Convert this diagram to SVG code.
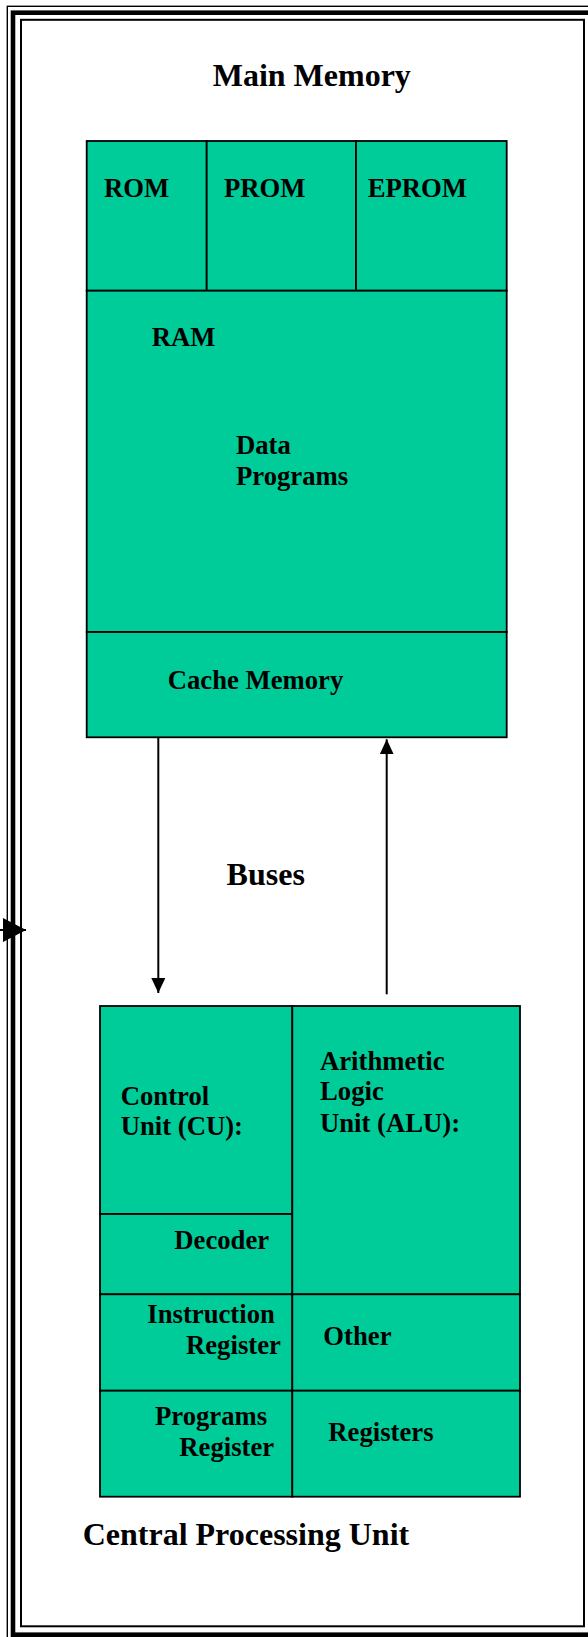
<svg xmlns="http://www.w3.org/2000/svg" width="588" height="1637" viewBox="0 0 588 1637">
  <style>
    .cell { fill: #00CC99; stroke: #000; stroke-width: 1.8; }
    .lbl { font-family: "Liberation Serif", "Times New Roman", serif; font-weight: bold; font-size: 26.7px; fill: #000; }
    .big { font-size: 32px; }
    .frame { fill: none; stroke: #000; }
    .wire { stroke: #000; stroke-width: 2; fill: none; }
  </style>
  <defs>
    <marker id="head" markerUnits="userSpaceOnUse" markerWidth="15" markerHeight="14" refX="15" refY="7" orient="auto">
      <path d="M0,0 L15,7 L0,14 z" fill="#000"/>
    </marker>
    <marker id="head-big" markerUnits="userSpaceOnUse" markerWidth="23" markerHeight="24" refX="23" refY="12" orient="auto">
      <path d="M0,0 L23,12 L0,24 z" fill="#000"/>
    </marker>
  </defs>

  <rect width="588" height="1637" fill="#fff"/>

  <!-- triple-line page frame -->
  <g id="page-frame">
    <rect class="frame" x="7.3" y="6.3" width="591" height="1634" stroke-width="1.4"/>
    <rect class="frame" x="13" y="12.7" width="579" height="1622" stroke-width="4.6"/>
    <rect class="frame" x="21" y="19.8" width="563" height="1606.5" stroke-width="2"/>
  </g>

  <text id="title-main-memory" class="lbl big" x="212.7" y="86">Main Memory</text>

  <!-- main memory block -->
  <g id="main-memory">
    <g id="rom">
      <rect class="cell" x="86.7" y="141" width="120" height="149.7"/>
      <text class="lbl" x="104" y="197.3">ROM</text>
    </g>
    <g id="prom">
      <rect class="cell" x="206.7" y="141" width="149.3" height="149.7"/>
      <text class="lbl" x="224" y="197.3">PROM</text>
    </g>
    <g id="eprom">
      <rect class="cell" x="356" y="141" width="150.7" height="149.7"/>
      <text class="lbl" x="367.7" y="197.3">EPROM</text>
    </g>
    <g id="ram">
      <rect class="cell" x="86.7" y="290.7" width="420" height="341.3"/>
      <text class="lbl" x="151.7" y="345.7">RAM</text>
      <text class="lbl" x="236" y="454">Data</text>
      <text class="lbl" x="236" y="484.7">Programs</text>
    </g>
    <g id="cache-memory">
      <rect class="cell" x="86.7" y="632" width="420" height="105.3"/>
      <text class="lbl" x="167.7" y="689.3">Cache Memory</text>
    </g>
  </g>

  <text id="label-buses" class="lbl big" x="226.6" y="884.5">Buses</text>

  <!-- central processing unit block -->
  <g id="cpu">
    <g id="control-unit">
      <rect class="cell" x="100" y="1006" width="192.3" height="208"/>
      <text class="lbl" x="120.7" y="1105">Control</text>
      <text class="lbl" x="120.7" y="1135">Unit (CU):</text>
    </g>
    <g id="decoder">
      <rect class="cell" x="100" y="1214" width="192.3" height="80.3"/>
      <text class="lbl" x="174.3" y="1249.3">Decoder</text>
    </g>
    <g id="instruction-register">
      <rect class="cell" x="100" y="1294.3" width="192.3" height="96.4"/>
      <text class="lbl" x="147.3" y="1322.7">Instruction</text>
      <text class="lbl" x="186" y="1354">Register</text>
    </g>
    <g id="programs-register">
      <rect class="cell" x="100" y="1390.7" width="192.3" height="106"/>
      <text class="lbl" x="155" y="1425">Programs</text>
      <text class="lbl" x="179.3" y="1456">Register</text>
    </g>
    <g id="alu">
      <rect class="cell" x="292.3" y="1006" width="227.7" height="288.3"/>
      <text class="lbl" x="320" y="1070">Arithmetic</text>
      <text class="lbl" x="320" y="1100">Logic</text>
      <text class="lbl" x="320" y="1131.7">Unit (ALU):</text>
    </g>
    <g id="other">
      <rect class="cell" x="292.3" y="1294.3" width="227.7" height="96.4"/>
      <text class="lbl" x="323.3" y="1345">Other</text>
    </g>
    <g id="registers">
      <rect class="cell" x="292.3" y="1390.7" width="227.7" height="106"/>
      <text class="lbl" x="328.3" y="1440.7">Registers</text>
    </g>
  </g>

  <text id="title-cpu" class="lbl big" x="82.7" y="1545">Central Processing Unit</text>

  <!-- bus connectors -->
  <g id="connectors">
    <line class="wire" x1="158.3" y1="737.3" x2="158.3" y2="993" marker-end="url(#head)"/>
    <line class="wire" x1="386.7" y1="994.3" x2="386.7" y2="739.3" marker-end="url(#head)"/>
    <line class="wire" x1="0" y1="930" x2="26" y2="930" marker-end="url(#head-big)"/>
  </g>
</svg>
